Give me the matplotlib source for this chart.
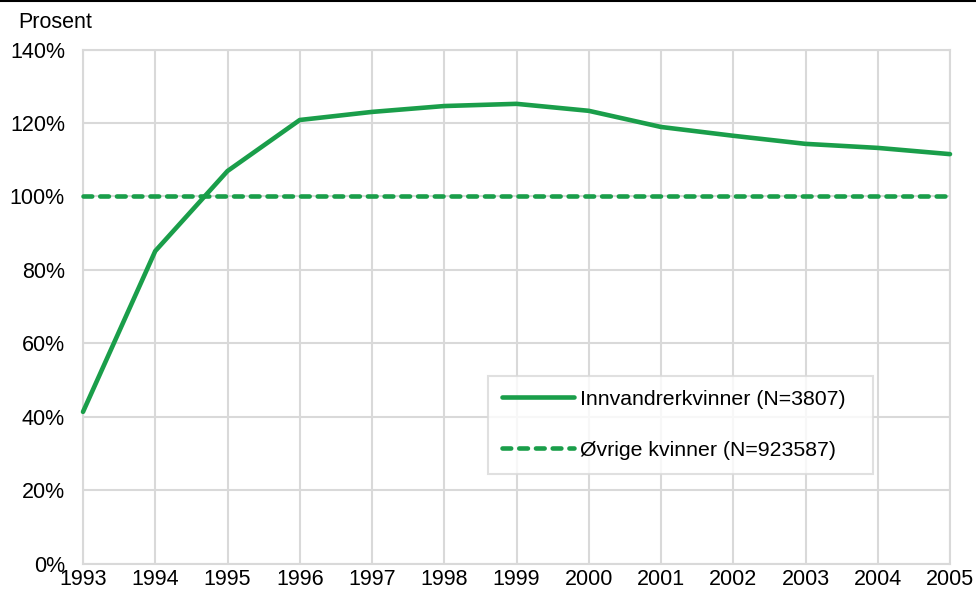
import matplotlib.pyplot as plt
from matplotlib.lines import Line2D
from matplotlib.ticker import FuncFormatter

plt.rcParams['font.family'] = ['Liberation Sans', 'DejaVu Sans']

aar = [1993, 1994, 1995, 1996, 1997, 1998, 1999, 2000, 2001, 2002, 2003, 2004, 2005]
innvandrer = [41.3, 85.1, 106.9, 120.8, 123.0, 124.6, 125.2, 123.3, 118.9, 116.5, 114.3, 113.2, 111.5]
ovrige = [100] * len(aar)

gronn = '#1a9e4a'
grid_farge = '#d9d9d9'

fig = plt.figure(figsize=(9.76, 5.9), dpi=100)
ax = fig.add_axes([83 / 976, 26.5 / 590, 867 / 976, 514 / 590])

ax.plot(aar, innvandrer, color=gronn, linewidth=3.3, solid_capstyle='round',
        label='Innvandrerkvinner (N=3807)', clip_on=False, zorder=3)
ax.plot(aar, ovrige, color=gronn, linewidth=3.3, linestyle=(0, (1.9, 1.75)),
        dash_capstyle='round', label='Øvrige kvinner (N=923587)', clip_on=False, zorder=3)

ax.set_xlim(1993, 2005)
ax.set_ylim(0, 140)
ax.set_xticks(aar)
ax.set_yticks(range(0, 141, 20))
ax.yaxis.set_major_formatter(FuncFormatter(lambda v, p: f'{int(v)}%'))
ax.grid(True, color=grid_farge, linewidth=1.5)
ax.set_axisbelow(True)
for s in ax.spines.values():
    s.set_color(grid_farge)
    s.set_linewidth(1.5)
ax.tick_params(axis='both', length=0, labelsize=15.5, colors='black')
ax.tick_params(axis='y', pad=13)
ax.tick_params(axis='x', pad=4)

leg = ax.legend(loc='lower left', bbox_to_anchor=(405 / 867, 90 / 514, 385 / 867, 98 / 514),
                mode='expand', fontsize=15.3, frameon=True, fancybox=False,
                handlelength=3.4, handletextpad=0.3, labelspacing=1.5, borderpad=0.65,
                borderaxespad=0)
leg.get_frame().set_edgecolor(grid_farge)
leg.get_frame().set_linewidth(1.5)

fig.text(18 / 976, 1 - 22 / 590, 'Prosent', fontsize=15.5, va='center', ha='left')
fig.add_artist(Line2D([0, 1], [0.998, 0.998], color='black', linewidth=1.5, transform=fig.transFigure))

fig.savefig('out.png', dpi=100)
